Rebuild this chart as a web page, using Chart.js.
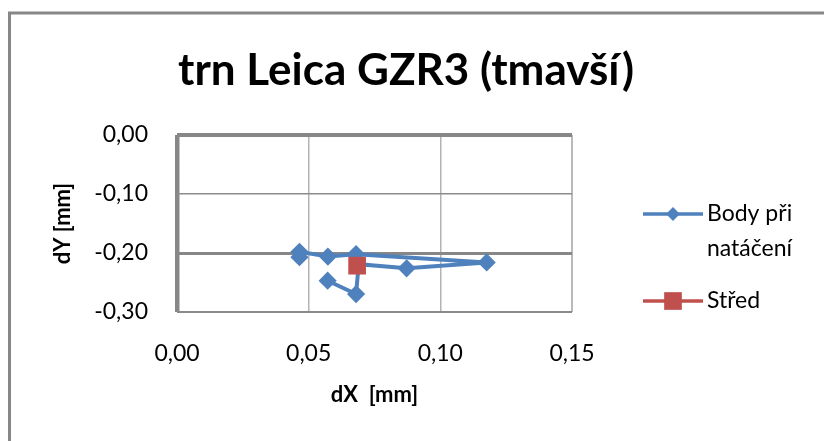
<!DOCTYPE html>
<html><head><meta charset="utf-8">
<script src="https://cdn.jsdelivr.net/npm/chart.js@4/dist/chart.umd.min.js"></script>
<style>html,body{margin:0;padding:0;background:#fff;overflow:hidden}canvas{display:block}</style>
</head><body>
<canvas id="c" width="824" height="441"></canvas>
<script>
// ---- data ----
const chartTitle = 'trn Leica GZR3 (tmavší)';
const xAxisTitle = 'dX  [mm]';
const yAxisTitle = 'dY [mm]';
const seriesNames = ['Body při natáčení', 'Střed'];
const bodyX = [0.0465, 0.0465, 0.0573, 0.0680, 0.1176, 0.0872, 0.0690, 0.0680, 0.0572];
const bodyY = [-0.207, -0.198, -0.206, -0.202, -0.216, -0.226, -0.219, -0.2695, -0.247];
const stredX = [0.0684];
const stredY = [-0.2215];
const xTicks = [0, 0.05, 0.10, 0.15];
const yTicks = [0, -0.10, -0.20, -0.30];

const BLUE = '#4f81bd', RED = '#c0504d';
const FONT = 'Lato, "Open Sans", sans-serif';
const fmt = v => (Math.abs(v) < 1e-9 ? 0 : v).toFixed(2).replace('.', ',');
const key = v => Math.round(v * 100);

const yGrid = {0: ['#878787', 4], [-10]: ['#8c8c8c', 1.5], [-20]: ['#878787', 3], [-30]: ['#8a8a8a', 2]};
const xGrid = {0: ['#878787', 4.5], 5: ['#b3b3b3', 1.5], 10: ['#b3b3b3', 1.5], 15: ['#bababa', 2]};

const frame = {
  id: 'frame',
  beforeDraw(chart) {
    const c = chart.ctx;
    c.save();
    c.fillStyle = '#fff';
    c.fillRect(0, 0, chart.width, chart.height);
    c.strokeStyle = '#878787';
    c.lineWidth = 3;
    c.beginPath();
    c.moveTo(9.5, chart.height);
    c.lineTo(9.5, 13);
    c.lineTo(chart.width, 13);
    c.stroke();
    // chart title
    c.fillStyle = '#000';
    c.font = 'bold 44px ' + FONT;
    c.textAlign = 'center';
    c.textBaseline = 'middle';
    c.fillText(chartTitle, 406, 71);
    c.restore();
  }
};

const sideLegend = {
  id: 'sideLegend',
  afterDraw(chart) {
    const c = chart.ctx;
    const ys = [214, 301];
    c.save();
    c.font = '23px ' + FONT;
    c.textBaseline = 'middle';
    c.fillStyle = '#000';
    chart.data.datasets.forEach((ds, i) => {
      const y = ys[i];
      c.strokeStyle = ds.borderColor;
      c.lineWidth = 3.5;
      c.beginPath(); c.moveTo(643, y); c.lineTo(703, y); c.stroke();
      c.fillStyle = ds.backgroundColor;
      c.strokeStyle = ds.borderColor;
      c.lineWidth = i === 0 ? 2 : 0;
      Chart.helpers.drawPoint(c, {pointStyle: ds.pointStyle, radius: i === 0 ? 5.5 : 12.5, rotation: 0, borderWidth: i === 0 ? 2 : 0}, 673, y);
      const words = ds.label.split(' ');
      const lines = []; let cur = '';
      words.forEach(w => {
        const t = cur ? cur + ' ' + w : w;
        if (c.measureText(t).width > 105 && cur) { lines.push(cur); cur = w; } else cur = t;
      });
      lines.push(cur);
      c.fillStyle = '#000';
      lines.forEach((ln, k) => c.fillText(ln, 707, y + k * 35));
    });
    c.restore();
  }
};

new Chart(document.getElementById('c'), {
  type: 'scatter',
  data: {
    datasets: [
      {
        label: seriesNames[0],
        data: bodyX.map((x, i) => ({x, y: bodyY[i]})),
        order: 1,
        showLine: true,
        borderColor: BLUE,
        backgroundColor: BLUE,
        borderWidth: 4,
        pointStyle: 'rectRot',
        pointRadius: 7,
        pointBorderWidth: 3,
        pointBackgroundColor: BLUE,
        pointBorderColor: BLUE,
        tension: 0
      },
      {
        label: seriesNames[1],
        data: stredX.map((x, i) => ({x, y: stredY[i]})),
        order: 0,
        showLine: true,
        borderColor: RED,
        backgroundColor: RED,
        borderWidth: 3.5,
        pointStyle: 'rect',
        pointRadius: 12.5,
        pointBorderWidth: 0,
        pointBackgroundColor: RED
      }
    ]
  },
  options: {
    responsive: false,
    animation: false,
    devicePixelRatio: 1,
    layout: {padding: {left: 0, right: 252, top: 135, bottom: 0}},
    plugins: {
      legend: {display: false},
      tooltip: {enabled: false},
      title: {display: false}
    },
    scales: {
      x: {
        type: 'linear',
        min: 0, max: 0.15,
        afterBuildTicks: s => { s.ticks = xTicks.map(v => ({value: v})); },
        afterFit: s => { s.height = 129; },
        border: {display: false},
        grid: {
          drawTicks: false,
          color: ctx => (xGrid[key(ctx.tick.value)] || ['#b3b3b3'])[0],
          lineWidth: ctx => (xGrid[key(ctx.tick.value)] || [0, 1.5])[1]
        },
        ticks: {
          padding: 28,
          color: '#000',
          font: {family: FONT, size: 23},
          callback: v => fmt(v),
          maxRotation: 0
        },
        title: {
          display: true,
          text: xAxisTitle,
          color: '#000',
          font: {family: FONT, size: 22, weight: 'bold', lineHeight: 1.2},
          padding: {top: 0, bottom: 33}
        }
      },
      y: {
        type: 'linear',
        min: -0.3, max: 0,
        afterBuildTicks: s => { s.ticks = yTicks.slice().sort((a, b) => a - b).map(v => ({value: v})); },
        afterFit: s => { s.width = 177; },
        border: {display: false},
        grid: {
          drawTicks: false,
          color: ctx => (yGrid[key(ctx.tick.value)] || ['#8c8c8c'])[0],
          lineWidth: ctx => (yGrid[key(ctx.tick.value)] || [0, 1.5])[1]
        },
        ticks: {
          padding: 29,
          color: '#000',
          font: {family: FONT, size: 23},
          callback: v => fmt(v)
        },
        title: {
          display: true,
          text: yAxisTitle,
          color: '#000',
          font: {family: FONT, size: 22, weight: 'bold', lineHeight: 1.2},
          padding: {top: 50, bottom: 0}
        }
      }
    }
  },
  plugins: [frame, sideLegend]
});
</script>
</body></html>
